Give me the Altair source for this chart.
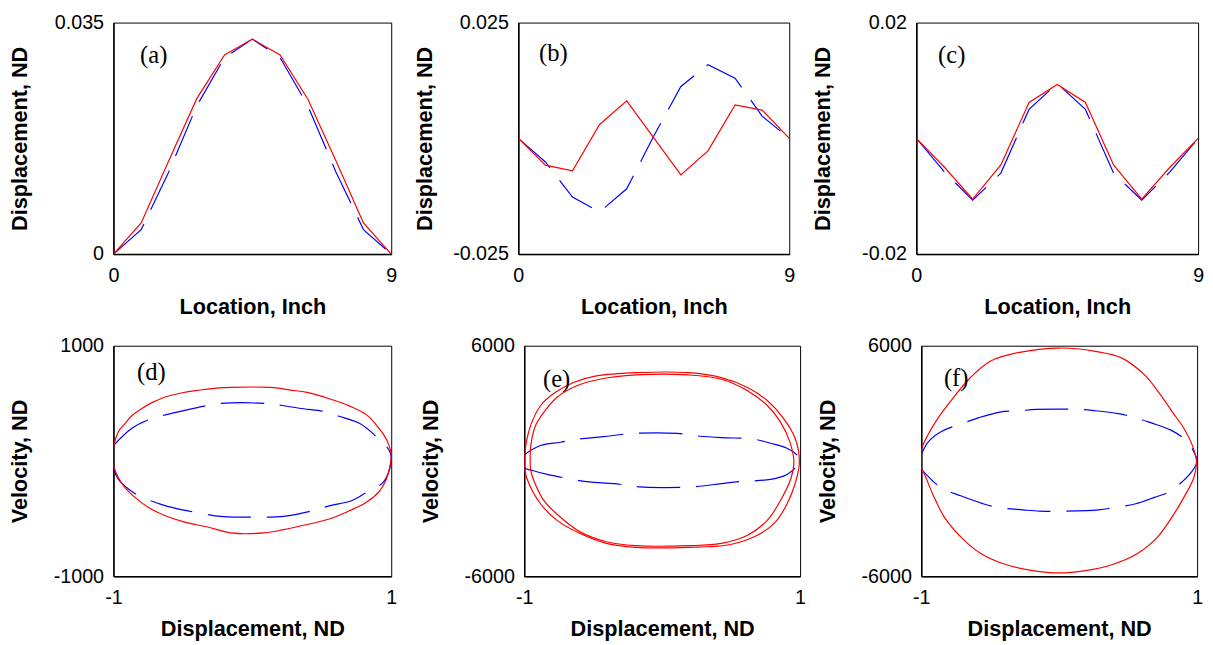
import altair as alt
import pandas as pd

FONT = "Liberation Sans"
SERIF = "Liberation Serif"
RED = "#FF0000"
BLUE = "#0000FF"
DASH = [44, 16]
LABEL_EXPR = "replace(format(datum.value, '~g'), '\u2212', '-')"

# ---------------- data: mode shapes (top row) ----------------
LOCATION = [0, 0.9, 1.8, 2.7, 3.6, 4.5, 5.4, 6.3, 7.2, 8.1, 9.0]
X_TICKS_TOP = [0, 9]

A_RED = [0, 0.0047, 0.0142, 0.0235, 0.0301, 0.0325, 0.0301, 0.0234, 0.0142, 0.0047, 0]
A_BLUE = [0, 0.0037, 0.0125, 0.0224, 0.0297, 0.0325, 0.0297, 0.0224, 0.0125, 0.0037, 0]
A_TICKS = [0, 0.035]

B_RED = [0, -0.0058, -0.0070, 0.0030, 0.0081, 0.0001, -0.0079, -0.0027, 0.0072, 0.0061, 0]
B_BLUE = [0, -0.0051, -0.0127, -0.0159, -0.0109, 0.0005, 0.0112, 0.0159, 0.0130, 0.0048, 0]
B_TICKS = [-0.025, 0.025]

C_RED = [0, -0.0050, -0.0105, -0.0046, 0.0062, 0.0093, 0.0062, -0.0046, -0.0105, -0.0050, 0]
C_BLUE = [0, -0.0058, -0.0107, -0.0060, 0.0050, 0.0095, 0.0050, -0.0060, -0.0107, -0.0058, 0]
C_TICKS = [-0.02, 0.02]

# ---------------- data: phase portraits (bottom row) ----------------
X_TICKS_BOTTOM = [-1, 1]

D_RED_X = [-1, -0.964, -0.917, -0.869, -0.798, -0.726, -0.631, -0.512, -0.321, -0.155,
           0.131, 0.274, 0.393, 0.560, 0.702, 0.821, 0.893, 0.940, 0.983, 1.0,
           0.988, 0.964, 0.917, 0.821, 0.702, 0.560, 0.369, 0.226, 0.083, -0.155,
           -0.321, -0.488, -0.631, -0.75, -0.845, -0.917, -0.964, -1, -1]
D_RED_V = [125, 254, 325, 390, 453, 504, 553, 590, 624, 638,
           638, 615, 595, 538, 476, 402, 311, 239, 140, 54,
           -60, -160, -259, -359, -430, -501, -558, -595, -624, -624,
           -573, -530, -473, -402, -316, -231, -145, -31, 125]
D_BLUE_X = [-1, -0.869, -0.738, -0.619, -0.488, -0.345, -0.226, 0.095, 0.214, 0.369,
            0.512, 0.619, 0.774, 0.893, 0.983, 1.0,
            0.988, 0.940, 0.821, 0.714, 0.560, 0.440, 0.226, 0.012, -0.107, -0.226,
            -0.417, -0.536, -0.679, -0.845, -0.964, -0.995, -1, -1]
D_BLUE_V = [134, 282, 362, 402, 439, 476, 499, 499, 481, 453,
            430, 390, 325, 211, 97, 26,
            -74, -188, -274, -345, -387, -430, -481, -487, -487, -481,
            -444, -416, -368, -282, -160, -74, -3, 134]
D_TICKS = [-1000, 1000]

E_RED_OUT_X = [-1, -0.988, -0.952, -0.881, -0.774, -0.643, -0.476, -0.190, 0.190, 0.429,
               0.619, 0.762, 0.881, 0.964, 0.995,
               0.976, 0.905, 0.810, 0.667, 0.476, 0.190, -0.190, -0.405, -0.595, -0.762,
               -0.881, -0.964, -0.995, -1]
E_RED_OUT_V = [-17, 837, 1880, 2888, 3572, 4085, 4426, 4597, 4597, 4341,
               3828, 3145, 2205, 1179, -17,
               -872, -2239, -3264, -3948, -4375, -4495, -4495, -4290, -3777, -3093,
               -2239, -1213, -530, -17]
E_RED_IN_X = [-0.957, -0.952, -0.917, -0.857, -0.762, -0.619, -0.452, -0.190, 0.190, 0.429,
              0.619, 0.762, 0.857, 0.925, 0.955,
              0.935, 0.857, 0.762, 0.619, 0.429, 0.190, -0.190, -0.405, -0.595, -0.738,
              -0.857, -0.929, -0.952, -0.957]
E_RED_IN_V = [-17, 837, 1863, 2546, 3316, 3914, 4255, 4478, 4478, 4255,
              3657, 2888, 2034, 1008, -17,
              -872, -2068, -3093, -3862, -4290, -4409, -4409, -4204, -3691, -2922,
              -2068, -1042, -530, -17]
E_BLUE_X = [-1, -0.881, -0.738, -0.619, -0.429, -0.202, 0.107, 0.238, 0.429, 0.655,
            0.786, 0.905, 0.988, 1.0,
            0.988, 0.905, 0.786, 0.560, 0.429, 0.214, 0, -0.167, -0.310, -0.548,
            -0.714, -0.833, -0.940, -0.995, -1, -1]
E_BLUE_V = [325, 803, 974, 1128, 1265, 1436, 1436, 1316, 1213, 1145,
            923, 667, 239, 0,
            -188, -701, -957, -1077, -1179, -1350, -1384, -1350, -1213, -1077,
            -872, -701, -496, -359, 0, 325]
E_TICKS = [-6000, 6000]

F_RED_X = [-1, -0.995, -0.952, -0.881, -0.774, -0.655, -0.5, -0.286, 0, 0.262,
           0.452, 0.619, 0.714, 0.821, 0.905, 0.964, 0.995,
           0.976, 0.917, 0.833, 0.714, 0.571, 0.381, 0.190, 0, -0.190,
           -0.405, -0.571, -0.714, -0.833, -0.917, -0.976, -1, -1]
F_RED_V = [-17, 667, 1350, 2205, 3230, 4255, 5195, 5657, 5879, 5708,
           5366, 4480, 3650, 2546, 1692, 837, -17,
           -872, -1726, -2751, -3948, -4802, -5400, -5708, -5828, -5708,
           -5349, -4802, -3948, -2922, -1726, -701, -359, -17]
F_BLUE_X = [-1, -0.952, -0.857, -0.690, -0.583, -0.429, -0.286, -0.167, 0.143, 0.262,
            0.429, 0.560, 0.667, 0.810, 0.929, 0.988, 1.0,
            0.964, 0.810, 0.690, 0.548, 0.405, 0.286, -0.024, -0.143, -0.262,
            -0.452, -0.560, -0.714, -0.857, -0.952, -1, -1]
F_BLUE_V = [325, 974, 1521, 1982, 2256, 2546, 2615, 2683, 2683, 2615,
            2461, 2239, 1982, 1606, 1008, 300, -17,
            -530, -1555, -1897, -2239, -2410, -2546, -2615, -2615, -2546,
            -2410, -2205, -1812, -1384, -786, -359, 325]
F_TICKS = [-6000, 6000]


def x_axis(title, ticks, w):
    return alt.Axis(values=ticks, title=title, labelFlush=False, ticks=False, grid=False,
                    domainColor="black", domainWidth=1.5, labelExpr=LABEL_EXPR,
                    labelPadding=12, titleX=w / 2, titleY=60, titleAlign="center",
                    titleBaseline="alphabetic")


def y_axis(title, ticks, h):
    return alt.Axis(values=ticks, title=title, labelFlush=False, ticks=False, grid=False,
                    domainColor="black", domainWidth=1.5, labelExpr=LABEL_EXPR,
                    labelPadding=10, titleAngle=270, titleX=-83, titleY=h / 2,
                    titleAlign="center", titleBaseline="bottom")


def panel_label(text, lx, ly):
    return alt.Chart(pd.DataFrame({"t": [text]})).mark_text(
        font=SERIF, fontSize=25, align="left", baseline="middle", color="black"
    ).encode(x=alt.value(lx), y=alt.value(ly), text="t:N")


def profile_panel(red, blue, yticks, label, w, h, lx, ly):
    xs = alt.X("x:Q", scale=alt.Scale(domain=X_TICKS_TOP, nice=False, zero=False),
               axis=x_axis("Location, Inch", X_TICKS_TOP, w))
    ys = alt.Y("y:Q", scale=alt.Scale(domain=yticks, nice=False, zero=False),
               axis=y_axis("Displacement, ND", yticks, h))
    b = alt.Chart(pd.DataFrame({"x": LOCATION, "y": blue})).mark_line(
        color=BLUE, strokeWidth=1.2, strokeDash=DASH, clip=True).encode(x=xs, y=ys)
    r = alt.Chart(pd.DataFrame({"x": LOCATION, "y": red})).mark_line(
        color=RED, strokeWidth=1.2, clip=True).encode(x=xs, y=ys)
    return alt.layer(b, r, panel_label(label, lx, ly)).properties(width=w, height=h)


def loop_df(xv, yv):
    return pd.DataFrame({"x": xv, "y": yv, "o": list(range(len(xv)))})


def phase_panel(loops, yticks, label, w, h, lx, ly):
    xs = alt.X("x:Q", scale=alt.Scale(domain=X_TICKS_BOTTOM, nice=False, zero=False),
               axis=x_axis("Displacement, ND", X_TICKS_BOTTOM, w))
    ys = alt.Y("y:Q", scale=alt.Scale(domain=yticks, nice=False, zero=False),
               axis=y_axis("Velocity, ND", yticks, h))
    layers = []
    for xv, yv, color in loops:
        kw = dict(color=color, strokeWidth=1.2, interpolate="catmull-rom", clip=True)
        if color == BLUE:
            kw["strokeDash"] = DASH
        layers.append(alt.Chart(loop_df(xv, yv)).mark_line(**kw).encode(
            x=xs, y=ys, order="o:Q"))
    layers.append(panel_label(label, lx, ly))
    return alt.layer(*layers).properties(width=w, height=h)


pa = profile_panel(A_RED, A_BLUE, A_TICKS, "(a)", 282, 235, 27, 33)
pb = profile_panel(B_RED, B_BLUE, B_TICKS, "(b)", 275, 235, 21, 31)
pc = profile_panel(C_RED, C_BLUE, C_TICKS, "(c)", 286, 235, 22, 33)

pdd = phase_panel([(D_BLUE_X, D_BLUE_V, BLUE), (D_RED_X, D_RED_V, RED)],
                  D_TICKS, "(d)", 282, 234, 24, 27)
pe = phase_panel([(E_BLUE_X, E_BLUE_V, BLUE), (E_RED_OUT_X, E_RED_OUT_V, RED),
                  (E_RED_IN_X, E_RED_IN_V, RED)],
                 E_TICKS, "(e)", 280, 234, 19, 34)
pf = phase_panel([(F_BLUE_X, F_BLUE_V, BLUE), (F_RED_X, F_RED_V, RED)],
                 F_TICKS, "(f)", 280, 234, 23, 33)

top = alt.hconcat(pa, pb, pc, spacing=15)
bottom = alt.hconcat(alt.hconcat(pdd, pe, spacing=21), pf, spacing=9)

chart = alt.vconcat(top, bottom, spacing=17).properties(
    padding={"left": 0, "top": -1, "right": 0, "bottom": 0},
    background="white",
).configure_view(
    stroke="black", strokeWidth=1
).configure_axis(
    labelFont=FONT, labelFontSize=20, labelColor="black",
    titleFont=FONT, titleFontSize=22, titleFontWeight="bold", titleColor="black",
)

chart.save("out.html", embed_options={"renderer": "svg", "actions": False})
